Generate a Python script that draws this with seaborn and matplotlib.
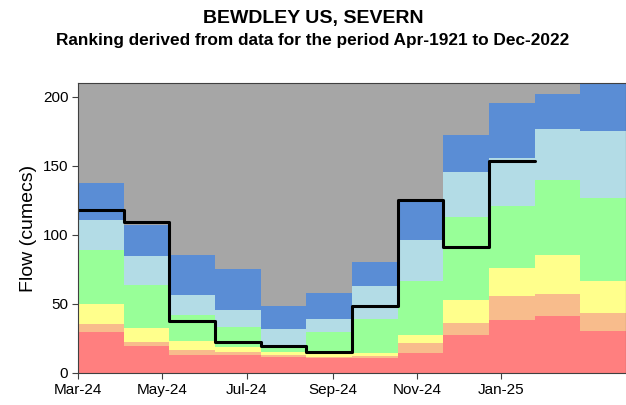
import numpy as np
import pandas as pd
import matplotlib
matplotlib.use("Agg")
import matplotlib.pyplot as plt
import matplotlib.dates as mdates
import seaborn as sns

# Monthly flow bands (upper bound of each ranking band, cumecs), Mar-24 .. Feb-25
months = ["Mar-24", "Apr-24", "May-24", "Jun-24", "Jul-24", "Aug-24",
          "Sep-24", "Oct-24", "Nov-24", "Dec-24", "Jan-25", "Feb-25"]
band_red = [30.0, 19.7, 13.2, 13.0, 11.5, 10.5, 11.2, 14.8, 27.4, 38.5, 41.0, 30.5]
band_salmon = [35.4, 22.5, 16.7, 15.5, 13.0, 11.5, 12.5, 21.6, 36.1, 56.0, 57.5, 43.6]
band_yellow = [49.7, 32.3, 23.4, 19.0, 15.5, 13.5, 14.8, 27.6, 53.1, 76.1, 85.5, 66.4]
band_green = [88.8, 63.9, 42.2, 33.0, 20.5, 30.0, 39.0, 66.4, 113.2, 121.0, 140.0, 126.5]
band_lightblue = [111.0, 84.6, 56.7, 45.5, 31.8, 39.0, 62.8, 96.0, 145.7, 155.4, 177.0, 175.5]
band_blue = [137.6, 107.4, 85.8, 75.5, 48.5, 58.0, 80.2, 124.0, 172.4, 195.4, 202.0, 215.0]

# Observed monthly mean flow, Mar-24 .. Dec-24
flow = [118.3, 109.2, 37.8, 22.2, 19.6, 15.0, 48.4, 125.5, 91.6, 153.8]

y_max = 210
y_ticks = [0, 50, 100, 150, 200]
x_start, x_end = "2024-03-01", "2025-04-01"
tick_dates = ["2024-03-01", "2024-05-01", "2024-07-01",
              "2024-09-01", "2024-11-01", "2025-01-01"]

sns.set_style("ticks")
plt.rcParams["font.family"] = ["Liberation Sans", "DejaVu Sans"]
plt.rcParams.update({"text.color": "black", "axes.labelcolor": "black",
                     "xtick.color": "black", "ytick.color": "black"})

fig = plt.figure(figsize=(6.26, 4.05), dpi=100)
ax = fig.add_axes([78 / 626, 1 - 373 / 405, 548 / 626, 290 / 405])

x0 = mdates.date2num(pd.Timestamp(x_start))
x1 = mdates.date2num(pd.Timestamp(x_end))
n = len(months)
edges = np.linspace(x0, x1, n + 1)

def ext(v):
    v = list(v)
    return np.array(v + [v[-1]])

layers = [
    (np.zeros(n), band_red, "#FF7F7F"),
    (band_red, band_salmon, "#F8BC8C"),
    (band_salmon, band_yellow, "#FFFF8C"),
    (band_yellow, band_green, "#98FF98"),
    (band_green, band_lightblue, "#B3DCE6"),
    (band_lightblue, band_blue, "#5A8DD5"),
    (band_blue, np.maximum(np.array(band_blue), y_max), "#A6A6A6"),
]
for lo, hi, col in layers:
    ax.fill_between(edges, ext(lo), ext(hi), step="post", color=col,
                    linewidth=0, zorder=1)

flow_df = pd.DataFrame({
    "x": edges[: len(flow) + 1],
    "flow": flow + [flow[-1]],
})
sns.lineplot(data=flow_df, x="x", y="flow", ax=ax, color="black",
             linewidth=2.2, drawstyle="steps-post", zorder=3)

ax.set_xlim(x0, x1)
ax.set_ylim(0, y_max)
ax.set_yticks(y_ticks)
ax.set_xticks([mdates.date2num(pd.Timestamp(d)) for d in tick_dates])
ax.xaxis.set_major_formatter(mdates.DateFormatter("%b-%y"))
ax.tick_params(axis="both", labelsize=11, length=4, width=0.8,
               color="#404040", labelcolor="black", pad=3)
ax.set_xlabel("")
ax.set_ylabel("Flow (cumecs)", fontsize=14, labelpad=4, color="black")
for s in ax.spines.values():
    s.set_color("#404040")
    s.set_linewidth(0.8)
    s.set_zorder(4)

fig.text(0.5, 1 - 18 / 405, "BEWDLEY US, SEVERN", ha="center", va="center",
         fontsize=14, fontweight="bold", color="black")
fig.text(0.5, 1 - 41 / 405,
         "Ranking derived from data for the period Apr-1921 to Dec-2022",
         ha="center", va="center", fontsize=12.4, fontweight="bold",
         color="black")

fig.savefig("out.png", dpi=100)
